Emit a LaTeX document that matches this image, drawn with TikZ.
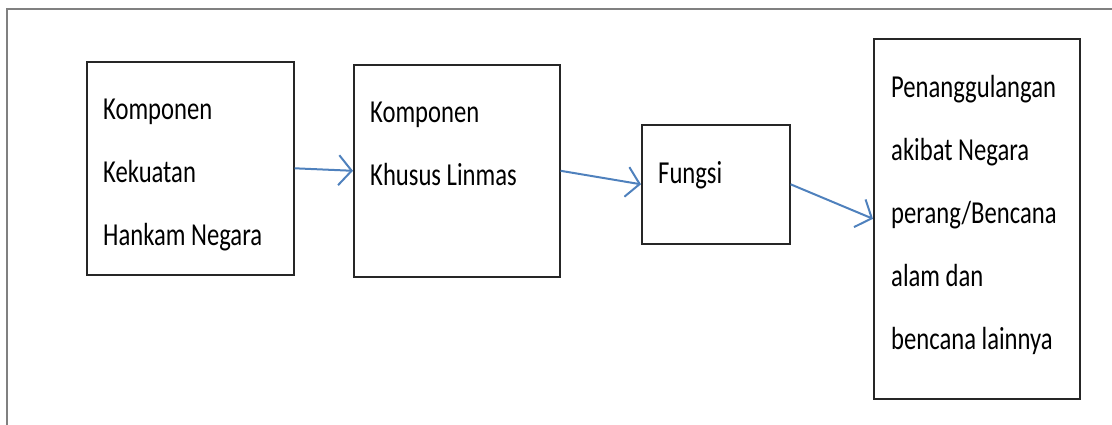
\documentclass[tikz,border=0pt]{standalone}
\usepackage{fontspec}
\setmainfont{Carlito}[FakeStretch=0.77]
\usetikzlibrary{arrows.meta}
\definecolor{birupanah}{RGB}{79,129,189}

\begin{document}
\begin{tikzpicture}[x=1pt,y=-1pt,
  kotak/.style={draw=black!85,line width=1.6pt,anchor=north west,inner sep=0pt},
  tulisan/.style={anchor=north west,inner sep=0pt,align=left,font=\fontsize{32}{63}\selectfont},
  panah/.style={birupanah,line width=2pt,-{Straight Barb[length=13pt,width=30pt]}}]
\useasboundingbox (0,0) rectangle (1112,425);

% bingkai
\coordinate (fa) at (7,425);
\coordinate (fb) at (7,9);
\coordinate (fc) at (1112,9);
\draw [gray,line width=2pt] (fa)--(fb)--(fc);

%1
\node[kotak,minimum width=207pt,minimum height=213pt] (b1) at (86,61) {};
\node[tulisan] (t1) at (103,99) {Komponen\\Kekuatan\\Hankam Negara};

%2
\node[kotak,minimum width=206pt,minimum height=212pt] (b2) at (353,64) {};
\node[tulisan] (t2) at (370,102) {Komponen\\Khusus Linmas};

%3
\node[kotak,minimum width=148pt,minimum height=119pt] (b3) at (641,124) {};
\node[tulisan] (t3) at (658,161) {Fungsi};

%4
\node[kotak,minimum width=206pt,minimum height=360pt] (b4) at (873,38) {};
\node[tulisan] (t4) at (891,75) {Penanggulangan\\akibat Negara\\perang/Bencana\\alam dan\\bencana lainnya};

% panah
\draw [panah] (b1.east)--(b2.west);
\draw [panah] (b2.east)--(b3.west);
\draw [panah] (b3.east)--(b4.west);

\end{tikzpicture}
\end{document}
